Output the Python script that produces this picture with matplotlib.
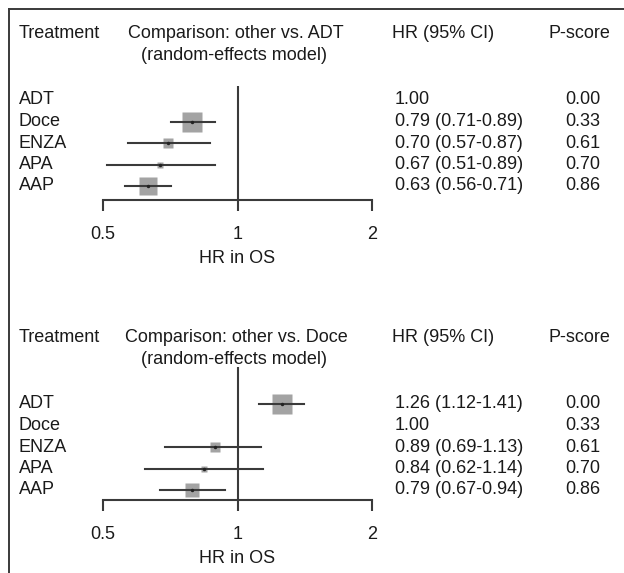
import numpy as np
import matplotlib
matplotlib.use("Agg")
import matplotlib.pyplot as plt
from matplotlib.lines import Line2D
from matplotlib.transforms import blended_transform_factory

plt.rcParams['font.family'] = ['Liberation Sans', 'DejaVu Sans']

# data
treatments = ['ADT', 'Doce', 'ENZA', 'APA', 'AAP']
p_scores = ['0.00', '0.33', '0.61', '0.70', '0.86']

refs = ['ADT', 'Doce']
hr_vs_adt = [1.00, 0.79, 0.70, 0.67, 0.63]
lo_vs_adt = [np.nan, 0.71, 0.57, 0.51, 0.56]
hi_vs_adt = [np.nan, 0.89, 0.87, 0.89, 0.71]

hr_vs_doce = [1.26, 1.00, 0.89, 0.84, 0.79]
lo_vs_doce = [1.12, np.nan, 0.69, 0.62, 0.67]
hi_vs_doce = [1.41, np.nan, 1.13, 1.14, 0.94]

# box sizes (points)
box_adt = [0, 14, 6.5, 5, 12.5]
box_doce = [14, 0, 7, 4.5, 9.5]

W, H = 624, 573
fig = plt.figure(figsize=(W / 100, H / 100), dpi=100)


def fx(x):
    return x / W


def fy(y):
    return 1 - y / H


FS = 13
LC = '#3a3a3a'
TC = '#1a1a1a'

# frame lines
fig.add_artist(Line2D([fx(9), 1], [fy(9), fy(9)], color=LC, lw=1.4))
fig.add_artist(Line2D([fx(9), fx(9)], [fy(9), 0], color=LC, lw=1.4))

panels = [
    # ref, hr, lo, hi, boxes, header y, axis top, axis bottom, first row y
    ('ADT', hr_vs_adt, lo_vs_adt, hi_vs_adt, box_adt, 34, 86, 200, 100),
    ('Doce', hr_vs_doce, lo_vs_doce, hi_vs_doce, box_doce, 338, 367, 500, 404),
]
row_px = 21.5

for ref, hr, lo, hi, boxes, hy, top, bot, r0 in panels:
    ax = fig.add_axes([fx(103), fy(bot), (372 - 103) / W, (bot - top) / H])
    ax.set_xscale('log')
    ax.set_xlim(0.5, 2)
    ytop = -(r0 - top) / row_px
    ybot = (bot - r0) / row_px
    ax.set_ylim(ybot, ytop)
    ax.patch.set_visible(False)
    for s in ['top', 'right', 'left']:
        ax.spines[s].set_visible(False)
    ax.spines['bottom'].set_color(LC)
    ax.spines['bottom'].set_linewidth(1.5)
    ax.set_yticks([])
    ax.set_xticks([0.5, 1, 2])
    ax.set_xticklabels(['0.5', '1', '2'])
    ax.xaxis.set_minor_locator(matplotlib.ticker.NullLocator())
    ax.tick_params(axis='x', length=8, width=1.5, color=LC, pad=11,
                   labelsize=FS, labelcolor=TC)
    ax.set_xlabel('HR in OS', fontsize=FS, color=TC, labelpad=5)
    ax.axvline(1, color=LC, lw=1.5)

    rows = np.arange(len(treatments))
    for i in rows:
        if not np.isnan(lo[i]):
            ax.plot([lo[i], hi[i]], [i, i], color=LC, lw=1.5, zorder=2)
        if boxes[i] > 0:
            ax.plot(hr[i], i, marker='s', ms=boxes[i], color='#a3a3a3',
                    mec='none', zorder=1)
            ax.plot(hr[i], i, marker='o', ms=2.5, color='#222222', mec='none', zorder=3)

    tr = blended_transform_factory(fig.transFigure, ax.transData)
    for i, name in enumerate(treatments):
        ax.text(fx(19), i, name, transform=tr, fontsize=FS, color=TC, va='center')
        if np.isnan(lo[i]):
            s = f'{hr[i]:.2f}'
        else:
            s = f'{hr[i]:.2f} ({lo[i]:.2f}-{hi[i]:.2f})'
        ax.text(fx(395), i, s, transform=tr, fontsize=FS, color=TC, va='center')
        ax.text(fx(565), i, p_scores[i], transform=tr, fontsize=FS, color=TC, va='center')

    fig.text(fx(19), fy(hy), 'Treatment', fontsize=FS, color=TC, va='center')
    fig.text(fx(236), fy(hy), f'Comparison: other vs. {ref}', fontsize=FS,
             color=TC, va='center', ha='center')
    fig.text(fx(234), fy(hy + 21), '(random-effects model)', fontsize=FS,
             color=TC, va='center', ha='center')
    fig.text(fx(392), fy(hy), 'HR (95% CI)', fontsize=FS, color=TC, va='center')
    fig.text(fx(549), fy(hy), 'P-score', fontsize=FS, color=TC, va='center')

fig.savefig('out.png', dpi=100)
